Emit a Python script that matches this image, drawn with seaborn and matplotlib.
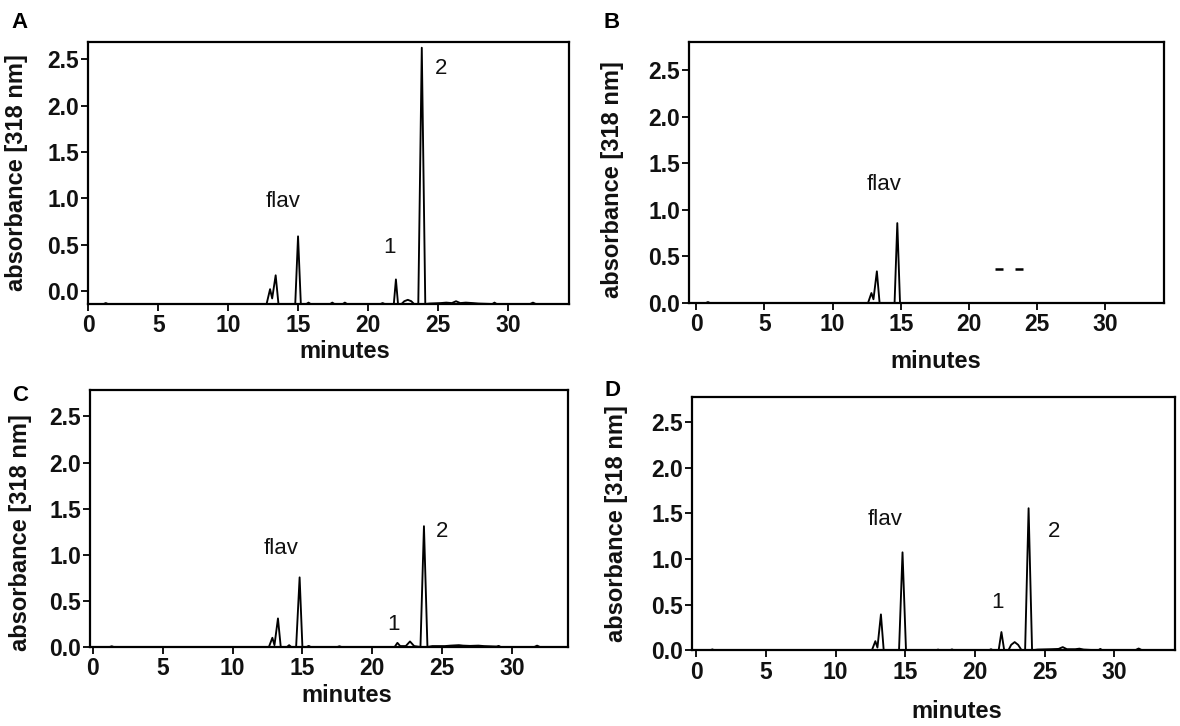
import matplotlib
matplotlib.use("Agg")
import matplotlib.pyplot as plt
import pandas as pd
import seaborn as sns

sns.set_theme(style="ticks")
plt.rcParams['font.family'] = ['Liberation Sans', 'DejaVu Sans']

# ---------------- data ----------------
x_ticks = [0, 5, 10, 15, 20, 25, 30]
y_ticks = [0.0, 0.5, 1.0, 1.5, 2.0, 2.5]
y_tick_labels = ["0.0", "0.5", "1.0", "1.5", "2.0", "2.5"]

# Panel A
a_time = [0.0, 1.1, 1.25, 1.4, 12.75, 13.0, 13.15, 13.4, 13.6, 14.8, 15.0, 15.2,
          15.6, 15.75, 15.9, 17.3, 17.45, 17.6, 18.2, 18.35, 18.5, 20.9, 21.05, 21.2,
          21.85, 22.0, 22.15, 22.4, 22.6, 22.85, 23.1, 23.3, 23.6, 23.85, 24.1, 24.4,
          25.2, 25.6, 26.0, 26.3, 26.6, 27.0, 27.5, 27.9, 28.9, 29.05, 29.2, 31.6,
          31.8, 32.0, 34.4]
a_abs = [-0.14, -0.14, -0.13, -0.14, -0.14, 0.02, -0.08, 0.17, -0.14, -0.14, 0.59, -0.14,
         -0.14, -0.125, -0.14, -0.14, -0.125, -0.14, -0.14, -0.125, -0.14, -0.14, -0.13, -0.14,
         -0.14, 0.125, -0.14, -0.14, -0.11, -0.095, -0.11, -0.14, -0.14, 2.625, -0.14, -0.135,
         -0.13, -0.125, -0.13, -0.11, -0.13, -0.125, -0.13, -0.135, -0.14, -0.125, -0.14, -0.14,
         -0.125, -0.14, -0.14]

# Panel B
b_time = [0.0, 0.7, 0.85, 1.0, 12.6, 12.85, 13.0, 13.25, 13.45, 14.55, 14.75, 14.95, 34.3]
b_abs = [0.0, 0.0, 0.01, 0.0, 0.0, 0.107, 0.04, 0.34, 0.0, 0.0, 0.857, 0.0, 0.0]
b_mark_time = [22.2, 23.7]
b_mark_abs = [0.36, 0.36]

# Panel C
c_time = [0.0, 1.2, 1.35, 1.5, 12.6, 12.85, 13.0, 13.25, 13.45, 13.9, 14.05, 14.2,
          14.55, 14.8, 15.0, 15.3, 15.45, 15.6, 17.5, 17.65, 17.8, 21.6, 21.8, 22.0,
          22.4, 22.7, 23.0, 23.45, 23.7, 23.95, 24.3, 25.2, 25.6, 26.2, 26.5, 27.0,
          27.6, 28.0, 28.9, 29.05, 29.2, 31.6, 31.8, 32.0, 34.0]
c_abs = [0.0, 0.0, 0.008, 0.0, 0.0, 0.1, 0.02, 0.31, 0.0, 0.0, 0.02, 0.0,
         0.0, 0.755, 0.0, 0.0, 0.012, 0.0, 0.0, 0.008, 0.0, 0.0, 0.045, 0.01,
         0.01, 0.06, 0.01, 0.0, 1.31, 0.0, 0.01, 0.01, 0.015, 0.02, 0.015, 0.012,
         0.015, 0.01, 0.005, 0.012, 0.0, 0.0, 0.015, 0.0, 0.0]

# Panel D
d_time = [0.0, 1.0, 1.15, 1.3, 12.6, 12.85, 13.0, 13.25, 13.45, 14.55, 14.8, 15.05,
          17.2, 17.35, 17.5, 18.2, 18.35, 18.5, 21.0, 21.15, 21.3, 21.7, 21.9, 22.1,
          22.4, 22.6, 22.85, 23.1, 23.35, 23.6, 23.85, 24.1, 24.5, 25.5, 26.0, 26.3,
          26.6, 27.2, 27.5, 27.8, 28.85, 29.0, 29.15, 31.5, 31.75, 32.0, 34.3]
d_abs = [0.0, 0.0, 0.01, 0.0, 0.0, 0.1, 0.03, 0.393, 0.0, 0.0, 1.073, 0.0,
         0.0, 0.008, 0.0, 0.0, 0.01, 0.0, 0.0, 0.012, 0.0, 0.0, 0.2, 0.0,
         0.0, 0.06, 0.09, 0.06, 0.0, 0.0, 1.556, 0.0, 0.008, 0.012, 0.015, 0.035,
         0.012, 0.012, 0.018, 0.008, 0.0, 0.015, 0.0, 0.0, 0.02, 0.0, 0.0]

# Peak annotations
a_peak_labels = ["flav", "1", "2"]
a_peak_x = [13.9, 21.55, 25.2]
a_peak_y = [0.97, 0.47, 2.40]
b_peak_labels = ["flav"]
b_peak_x = [13.8]
b_peak_y = [1.27]
c_peak_labels = ["flav", "1", "2"]
c_peak_x = [13.5, 21.5, 25.0]
c_peak_y = [1.07, 0.24, 1.25]
d_peak_labels = ["flav", "1", "2"]
d_peak_x = [13.55, 21.6, 25.7]
d_peak_y = [1.43, 0.52, 1.30]

# ---------------- figure ----------------
W, H = 1180, 726
fig = plt.figure(figsize=(W / 100, H / 100), dpi=100)


def px_axes(left, top, right, bottom):
    return fig.add_axes([left / W, 1 - bottom / H, (right - left) / W, (bottom - top) / H])


panels = [
    dict(letter="A", box=(88.3, 41.7, 569.3, 304.0), xlim=(0.0, 34.4), ylim=(-0.14, 2.69),
         t=a_time, y=a_abs, labels=(a_peak_labels, a_peak_x, a_peak_y),
         letter_pos=(20, 23), xlabel_pos=(345, 352), ylabel_pos=(17, 173)),
    dict(letter="B", box=(689.3, 42.0, 1164.0, 303.0), xlim=(-0.52, 34.33), ylim=(0.0, 2.80),
         t=b_time, y=b_abs, labels=(b_peak_labels, b_peak_x, b_peak_y),
         letter_pos=(612, 22), xlabel_pos=(936, 361), ylabel_pos=(613, 180)),
    dict(letter="C", box=(90.2, 389.7, 568.4, 647.0), xlim=(-0.19, 34.04), ylim=(0.0, 2.79),
         t=c_time, y=c_abs, labels=(c_peak_labels, c_peak_x, c_peak_y),
         letter_pos=(20, 396), xlabel_pos=(347, 696), ylabel_pos=(21, 533)),
    dict(letter="D", box=(692.3, 396.5, 1175.0, 650.3), xlim=(-0.29, 34.36), ylim=(0.0, 2.78),
         t=d_time, y=d_abs, labels=(d_peak_labels, d_peak_x, d_peak_y),
         letter_pos=(612, 390), xlabel_pos=(957, 711), ylabel_pos=(617, 524)),
]

tick_fs = 16.5
label_fs = 17
for p in panels:
    ax = px_axes(*p["box"])
    df = pd.DataFrame({"minutes": p["t"], "absorbance": p["y"]})
    sns.lineplot(data=df, x="minutes", y="absorbance", ax=ax, color="black",
                 linewidth=1.35, sort=False, estimator=None)
    if p["letter"] == "B":
        mk = pd.DataFrame({"minutes": b_mark_time, "absorbance": b_mark_abs})
        sns.scatterplot(data=mk, x="minutes", y="absorbance", ax=ax, marker="_",
                        s=36, color="black", linewidth=1.8)
    ax.set_xlim(*p["xlim"])
    ax.set_ylim(*p["ylim"])
    ax.set_xticks(x_ticks)
    ax.set_xticklabels([str(v) for v in x_ticks])
    ax.set_yticks(y_ticks)
    ax.set_yticklabels(y_tick_labels)
    ax.tick_params(axis="both", direction="out", length=5, width=1.3, color="black",
                   labelsize=tick_fs, labelcolor="#111111")
    ax.tick_params(axis="y", pad=1.5)
    ax.tick_params(axis="x", pad=2.5)
    for lab in ax.get_xticklabels() + ax.get_yticklabels():
        lab.set_fontweight("bold")
    for s in ax.spines.values():
        s.set_visible(True)
        s.set_linewidth(1.6)
        s.set_color("black")
    ax.set_xlabel("")
    ax.set_ylabel("")
    texts, xs, ys = p["labels"]
    for txt, xx, yy in zip(texts, xs, ys):
        ax.text(xx, yy, txt, ha="center", va="center", fontsize=16, color="#111111")

    lx, ly = p["letter_pos"]
    fig.text(lx / W, 1 - ly / H, p["letter"], fontsize=16, fontweight="bold",
             ha="center", va="center", color="black")
    xx, xy = p["xlabel_pos"]
    fig.text(xx / W, 1 - xy / H, "minutes", fontsize=label_fs, fontweight="bold",
             ha="center", va="center", color="#111111")
    yx, yy = p["ylabel_pos"]
    fig.text(yx / W, 1 - yy / H, "absorbance [318 nm]", fontsize=label_fs,
             fontweight="bold", rotation=90, ha="center", va="center", color="#111111")

fig.savefig("out.png", dpi=100, facecolor="white")
